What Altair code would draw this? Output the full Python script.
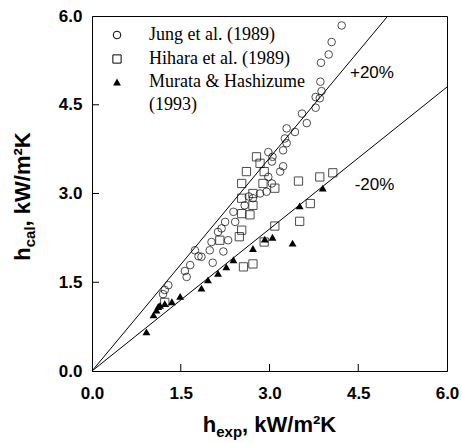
import altair as alt
import pandas as pd

# ---- data ----
jung_x = [4.22, 4.05, 4.00, 3.87, 3.86, 3.88, 3.78, 3.85, 3.78, 3.55, 3.63, 3.29, 3.43, 3.26, 3.29,
          3.23, 2.98, 3.05, 3.04, 3.23, 3.18, 2.98, 3.04, 2.95, 2.84, 2.72, 2.58, 2.65,
          2.39, 2.25, 2.42, 2.19, 2.13, 2.30, 2.02, 1.99, 2.22, 1.74, 1.80, 1.85, 2.04, 1.66,
          1.57, 1.60, 1.29, 1.23, 1.20]
jung_y = [5.84, 5.56, 5.35, 5.21, 4.89, 4.73, 4.63, 4.61, 4.45, 4.35, 4.19, 4.10, 4.04, 3.93, 3.85,
          3.73, 3.70, 3.62, 3.54, 3.46, 3.37, 3.28, 3.17, 3.03, 3.00, 2.92, 2.80, 2.95,
          2.69, 2.52, 2.52, 2.41, 2.35, 2.21, 2.18, 2.04, 2.02, 2.04, 1.94, 1.93, 1.83, 1.79,
          1.69, 1.59, 1.45, 1.37, 1.30]

hihara_x = [2.78, 2.84, 2.91, 2.89, 3.09, 2.72, 2.72, 2.67, 3.49, 3.85, 4.07, 3.69, 3.51, 3.09,
            2.91, 2.72, 2.61, 2.53, 2.53, 2.53, 2.53, 2.49, 2.16, 2.56, 1.23]
hihara_y = [3.62, 3.51, 3.37, 3.17, 3.09, 3.00, 2.80, 2.64, 3.21, 3.28, 3.35, 2.83, 2.53, 2.45,
            2.18, 1.81, 3.37, 3.17, 2.92, 2.66, 2.38, 2.27, 2.21, 1.76, 1.16]

murata_x = [3.90, 3.51, 2.92, 3.05, 2.72, 3.39, 2.39, 2.27, 2.13, 1.96, 1.85, 1.49, 1.35, 1.23,
            1.12, 1.09, 1.04, 1.15, 0.92]
murata_y = [3.09, 2.79, 2.23, 2.26, 2.07, 2.16, 1.88, 1.76, 1.65, 1.54, 1.40, 1.26, 1.17, 1.14,
            1.09, 1.03, 0.95, 1.11, 0.66]

tick_values = [0.0, 1.5, 3.0, 4.5, 6.0]
inner_ticks = [1.5, 3.0, 4.5]

band_x = [0.0, 5.0, 0.0, 6.0]
band_y = [0.0, 6.0, 0.0, 4.8]
band_group = ["+20%", "+20%", "-20%", "-20%"]
band_label_x = [4.36, 4.44]
band_label_y = [5.03, 3.14]
band_labels = ["+20%", "-20%"]

legend_labels = ["Jung et al. (1989)", "Hihara et al. (1989)", "Murata & Hashizume", "(1993)"]
x_title = ["h", "exp", ", kW/m\u00b2K"]
y_title = ["h", "cal", ", kW/m\u00b2K"]

# ---- layout ----
W = 355
H = 355
SANS = "Liberation Sans"
SERIF = "Liberation Serif"

x_axis = alt.Axis(values=tick_values, format=".1f", labelFont=SANS, labelFontSize=17,
                  labelFontWeight="bold", labelColor="black", ticks=False, tickSize=0,
                  domainColor="black", grid=False, title=None, labelPadding=14,
                  labelFlush=False)
y_axis = alt.Axis(values=tick_values, format=".1f", labelFont=SANS, labelFontSize=17,
                  labelFontWeight="bold", labelColor="black", ticks=False, tickSize=0,
                  domainColor="black", grid=False, title=None, labelPadding=10,
                  labelFlush=False)
xs = alt.Scale(domain=[0, 6], nice=False, zero=False)
ys = alt.Scale(domain=[0, 6], nice=False, zero=False)

jung = pd.DataFrame({"x": jung_x, "y": jung_y})
hihara = pd.DataFrame({"x": hihara_x, "y": hihara_y})
murata = pd.DataFrame({"x": murata_x, "y": murata_y})
bands = pd.DataFrame({"x": band_x, "y": band_y, "g": band_group})
band_text = pd.DataFrame({"x": band_label_x, "y": band_label_y, "t": band_labels})

base_lines = alt.Chart(bands).mark_line(color="black", strokeWidth=1).encode(
    x=alt.X("x:Q", scale=xs, axis=x_axis),
    y=alt.Y("y:Q", scale=ys, axis=y_axis),
    detail="g:N",
)

SZ_C, SZ_S, SZ_T = 58, 68, 62

pts_j = alt.Chart(jung).mark_point(shape="circle", filled=False, color="black",
                                   strokeWidth=1, size=SZ_C).encode(x="x:Q", y="y:Q")
pts_h = alt.Chart(hihara).mark_point(shape="square", filled=False, color="black",
                                     strokeWidth=1, size=SZ_S).encode(x="x:Q", y="y:Q")
pts_m = alt.Chart(murata).mark_point(shape="triangle-up", filled=True, color="black",
                                     opacity=1, size=SZ_T).encode(x="x:Q", y="y:Q")

btxt = alt.Chart(band_text).mark_text(align="left", baseline="middle", font=SANS,
                                      fontSize=17, color="black").encode(
    x="x:Q", y="y:Q", text="t:N")

# inward ticks
xt = alt.Chart(pd.DataFrame({"v": inner_ticks})).mark_rule(color="black", strokeWidth=1).encode(
    x="v:Q", y=alt.value(H), y2=alt.value(H - 7))
yt = alt.Chart(pd.DataFrame({"v": inner_ticks})).mark_rule(color="black", strokeWidth=1).encode(
    y="v:Q", x=alt.value(0), x2=alt.value(7))

layers = [base_lines, pts_j, pts_h, pts_m, btxt, xt, yt]

# legend (key)
sym_x = 25
sym_y = [19, 43, 66]
shapes = [("circle", False, SZ_C), ("square", False, SZ_S), ("triangle-up", True, SZ_T)]
for i, (shp, fil, sz) in enumerate(shapes):
    layers.append(
        alt.Chart(pd.DataFrame({"t": [legend_labels[i]]})).mark_point(
            shape=shp, filled=fil, color="black", strokeWidth=1, size=sz, opacity=1
        ).encode(x=alt.value(sym_x), y=alt.value(sym_y[i]))
    )
text_y = [19, 43, 66, 89]
for i, lab in enumerate(legend_labels):
    layers.append(
        alt.Chart(pd.DataFrame({"t": [lab]})).mark_text(
            align="left", baseline="middle", font=SERIF, fontSize=18, color="black"
        ).encode(x=alt.value(57), y=alt.value(text_y[i]), text="t:N")
    )

# axis titles with subscripts
MAIN = 22
SUB = 15
xw = [0.611 * MAIN, (0.556 + 0.556 + 0.611) * SUB]
x0 = W / 2 - (xw[0] + xw[1] + 4.278 * MAIN) / 2
xpos = [x0, x0 + xw[0], x0 + xw[0] + xw[1]]
xsizes = [MAIN, SUB, MAIN]
xdy = [0, 5, 0]
for i, t in enumerate(x_title):
    layers.append(
        alt.Chart(pd.DataFrame({"t": [t]})).mark_text(
            align="left", baseline="alphabetic", font=SANS, fontWeight="bold",
            fontSize=xsizes[i], color="black"
        ).encode(x=alt.value(xpos[i]), y=alt.value(416 + xdy[i]), text="t:N")
    )

yw = [0.611 * MAIN, (0.556 + 0.556 + 0.278) * SUB]
y0 = H / 2 + (yw[0] + yw[1] + 4.278 * MAIN) / 2 + 3
ypos = [y0, y0 - yw[0], y0 - yw[0] - yw[1]]
ydx = [0, 5, 0]
for i, t in enumerate(y_title):
    layers.append(
        alt.Chart(pd.DataFrame({"t": [t]})).mark_text(
            align="left", baseline="alphabetic", font=SANS, fontWeight="bold",
            fontSize=xsizes[i], color="black", angle=270
        ).encode(x=alt.value(-62 + ydx[i]), y=alt.value(ypos[i]), text="t:N")
    )

chart = alt.layer(*layers).properties(
    width=W, height=H,
    autosize=alt.AutoSizeParams(type="none"),
    padding={"left": 92, "top": 16, "right": 15, "bottom": 72},
    background="white",
).configure_view(stroke="black", strokeWidth=1)

chart.save("out.html", embed_options={"renderer": "svg", "actions": False})
